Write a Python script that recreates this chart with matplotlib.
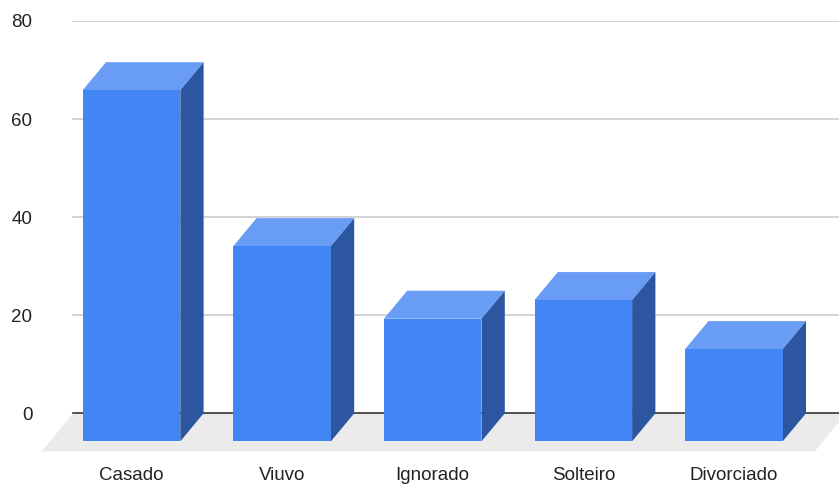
import matplotlib
matplotlib.use("Agg")
import matplotlib.pyplot as plt
from matplotlib.patches import Polygon

categories = ["Casado", "Viuvo", "Ignorado", "Solteiro", "Divorciado"]
values = [71.6, 39.8, 25, 28.8, 18.8]
yticks = [0, 20, 40, 60, 80]

FRONT = "#4285f4"
TOP = "#699df5"
SIDE = "#2c57a0"

W, H = 839, 484
fig = plt.figure(figsize=(W / 100, H / 100), dpi=100)
left_px, right_px = 72, 839
top_px, zero_px = 21, 413.3
ax = fig.add_axes([left_px / W, (H - zero_px) / H, (right_px - left_px) / W, (zero_px - top_px) / H])

slot = 150.6
sy = (zero_px - top_px) / 80
xl0 = -(154.8 - left_px) / slot
xl1 = xl0 + (right_px - left_px) / slot
ax.set_xlim(xl0, xl1)
ax.set_ylim(0, 80)
for s in ax.spines.values():
    s.set_visible(False)

# depth offsets in data units
ddx = 23.3 / slot
ddy = 28.0 / sy
bw = 97.6 / slot

# gridlines
for t in yticks[1:]:
    ax.axhline(t, color="#cccccc", lw=1.2, zorder=1)

# floor
fdx = 31 / slot
fdy = 38 / sy
floor = Polygon([(xl0 + 1 / slot, 0), (xl1 + 7 / slot, 0),
                 (xl1 + 7 / slot - fdx, -fdy), (xl0 + 1 / slot - fdx, -fdy)],
                closed=True, facecolor="#ebebeb", edgecolor="none", zorder=1.5, clip_on=False)
ax.add_patch(floor)
ax.plot([xl0 + 1 / slot, xl1], [0, 0], color="#333333", lw=1.2, zorder=2, clip_on=False)

xs = list(range(len(categories)))
fx = [x - ddx for x in xs]
bars = ax.bar(fx, values, width=bw, bottom=-ddy, color=FRONT, zorder=4, clip_on=False)
for x, v in zip(fx, values):
    l, r = x - bw / 2, x + bw / 2
    top = Polygon([(l, v - ddy), (r, v - ddy), (r + ddx, v), (l + ddx, v)],
                  closed=True, facecolor=TOP, edgecolor="none", zorder=3, clip_on=False)
    side = Polygon([(r, -ddy), (r + ddx, 0), (r + ddx, v), (r, v - ddy)],
                   closed=True, facecolor=SIDE, edgecolor="none", zorder=3, clip_on=False)
    ax.add_patch(top)
    ax.add_patch(side)

ax.set_yticks(yticks)
ax.set_yticklabels([str(t) for t in yticks], fontsize=13.5, color="#222222", family="Liberation Sans")
ax.tick_params(axis="y", length=0, pad=28.5)
ax.set_xticks(fx)
ax.set_xticklabels(categories, fontsize=13.5, color="#222222", family="Liberation Sans")
ax.tick_params(axis="x", length=0, pad=38.5)

fig.savefig("out.png", dpi=100)
